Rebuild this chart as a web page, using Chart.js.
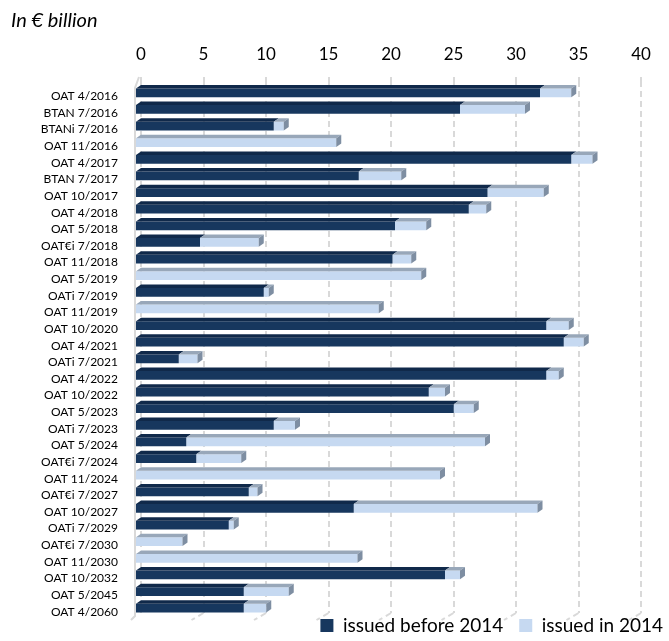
<!DOCTYPE html>
<html>
<head>
<meta charset="utf-8">
<script src="https://cdn.jsdelivr.net/npm/chart.js@4.4.1/dist/chart.umd.min.js"></script>
<style>
  html, body { margin: 0; padding: 0; background: #ffffff; }
  #wrap { width: 669px; height: 641px; }
</style>
</head>
<body>
<div id="wrap"><canvas id="chart" width="669" height="641"></canvas></div>
<script>
// Bond lines, in maturity order
const bonds = [
  'OAT 4/2016', 'BTAN 7/2016', 'BTANi 7/2016', 'OAT 11/2016', 'OAT 4/2017',
  'BTAN 7/2017', 'OAT 10/2017', 'OAT 4/2018', 'OAT 5/2018', 'OAT€i 7/2018',
  'OAT 11/2018', 'OAT 5/2019', 'OATi 7/2019', 'OAT 11/2019', 'OAT 10/2020',
  'OAT 4/2021', 'OATi 7/2021', 'OAT 4/2022', 'OAT 10/2022', 'OAT 5/2023',
  'OATi 7/2023', 'OAT 5/2024', 'OAT€i 7/2024', 'OAT 11/2024', 'OAT€i 7/2027',
  'OAT 10/2027', 'OATi 7/2029', 'OAT€i 7/2030', 'OAT 11/2030', 'OAT 10/2032',
  'OAT 5/2045', 'OAT 4/2060'
];

// Outstanding amounts, € billion
const issuedBefore2014 = [
  32.4, 26.0, 11.1, 0, 34.9,
  17.9, 28.2, 26.7, 20.8, 5.2,
  20.6, 0, 10.3, 0, 32.9,
  34.3, 3.5, 32.9, 23.5, 25.5,
  11.1, 4.1, 4.9, 0, 9.1,
  17.5, 7.5, 0, 0, 24.8,
  8.7, 8.7
];
const issuedIn2014 = [
  2.5, 5.2, 0.8, 16.1, 1.7,
  3.4, 4.5, 1.4, 2.5, 4.7,
  1.5, 22.9, 0.4, 19.5, 1.8,
  1.6, 1.5, 1.0, 1.3, 1.6,
  1.7, 23.9, 3.6, 24.4, 0.7,
  14.7, 0.4, 3.8, 17.8, 1.2,
  3.6, 1.8
];

const seriesNames = ['issued before 2014', 'issued in 2014'];
const axisMin = 0;
const axisMax = 40;
const axisStep = 5;

const FONT = 'Lato, "Open Sans", "DejaVu Sans", sans-serif';

// Face colours of the extruded bars: front, top, right
const faces = [
  { front: '#17375e', top: '#10294a', side: '#0c213d' },
  { front: '#c6d9f1', top: '#98a7b9', side: '#7e8ea2' }
];

// Extrusion of the bars towards the back wall (px)
const DEPTH_X = 5;
const DEPTH_Y = 3.5;
// Offset of the front faces from the wall the gridlines sit on
const FRONT_X = -6;
const FRONT_Y = 3.5;
const GRID = '#d9d9d9';

// Legend sits a little higher and further right than its layout box
const LEGEND_SHIFT_X = 10;
const LEGEND_RAISE = 13;

const boxes3d = {
  id: 'boxes3d',
  afterLayout(chart) {
    const lg = chart.legend;
    if (!lg) return;
    lg.left += LEGEND_SHIFT_X;
    lg.right += LEGEND_SHIFT_X;
    lg.top -= LEGEND_RAISE;
    lg.height = lg.bottom - lg.top;
  },
  beforeDraw(chart) {
    const { ctx, chartArea } = chart;
    const xs = chart.scales.x;
    ctx.save();
    ctx.strokeStyle = GRID;
    ctx.lineWidth = 2;
    // left wall edge
    ctx.beginPath();
    ctx.moveTo(chartArea.left - 2, chartArea.top - 4);
    ctx.lineTo(chartArea.left - 6, chartArea.top + 7);
    ctx.lineTo(chartArea.left - 6, chartArea.bottom + 3);
    ctx.lineTo(chartArea.left - 10, chartArea.bottom + 7);
    ctx.stroke();
    // floor continuation of the gridlines
    ctx.setLineDash([6, 4]);
    xs.ticks.forEach((t, i) => {
      if (i === 0) return;
      const x = xs.getPixelForValue(t.value);
      ctx.beginPath();
      ctx.moveTo(x, chartArea.bottom);
      ctx.lineTo(x - 12, chartArea.bottom + 7);
      ctx.stroke();
    });
    ctx.restore();
  },
  beforeDatasetsDraw(chart) {
    chart.ctx.save();
    chart.ctx.translate(FRONT_X, FRONT_Y);
  },
  afterDatasetsDraw(chart) {
    const ctx = chart.ctx;
    const metas = chart.getSortedVisibleDatasetMetas();
    const count = chart.data.labels.length;
    for (let i = 0; i < count; i++) {
      let last = -1;
      metas.forEach((m, k) => {
        if (chart.data.datasets[m.index].data[i] > 0) last = k;
      });
      metas.forEach((m, k) => {
        const v = chart.data.datasets[m.index].data[i];
        if (!(v > 0)) return;
        const el = m.data[i];
        const p = el.getProps(['x', 'y', 'base', 'height'], true);
        const top = p.y - p.height / 2;
        const bot = p.y + p.height / 2;
        const l = Math.min(p.base, p.x);
        const r = Math.max(p.base, p.x);
        const f = faces[m.index];
        ctx.fillStyle = f.top;
        ctx.beginPath();
        ctx.moveTo(l, top);
        ctx.lineTo(l + DEPTH_X, top - DEPTH_Y);
        ctx.lineTo(r + DEPTH_X, top - DEPTH_Y);
        ctx.lineTo(r, top);
        ctx.closePath();
        ctx.fill();
        if (k === last) {
          ctx.fillStyle = f.side;
          ctx.beginPath();
          ctx.moveTo(r, top);
          ctx.lineTo(r + DEPTH_X, top - DEPTH_Y);
          ctx.lineTo(r + DEPTH_X, bot - DEPTH_Y);
          ctx.lineTo(r, bot);
          ctx.closePath();
          ctx.fill();
        }
      });
    }
    ctx.restore();
  }
};

new Chart(document.getElementById('chart'), {
  type: 'bar',
  data: {
    labels: bonds,
    datasets: [
      {
        label: seriesNames[0],
        data: issuedBefore2014,
        backgroundColor: faces[0].front,
        borderWidth: 0,
        categoryPercentage: 1,
        barPercentage: 0.52
      },
      {
        label: seriesNames[1],
        data: issuedIn2014,
        backgroundColor: faces[1].front,
        borderWidth: 0,
        categoryPercentage: 1,
        barPercentage: 0.52
      }
    ]
  },
  options: {
    indexAxis: 'y',
    responsive: false,
    animation: false,
    devicePixelRatio: 1,
    layout: { padding: { left: 11, right: 0, top: 0, bottom: 0 } },
    plugins: {
      title: {
        display: true,
        text: 'In € billion',
        align: 'start',
        color: '#000000',
        font: { family: FONT, size: 20, style: 'italic', weight: 'normal', lineHeight: 1.2 },
        padding: { top: 9, bottom: 0 }
      },
      legend: {
        position: 'bottom',
        align: 'end',
        maxHeight: 28,
        labels: {
          color: '#000000',
          font: { family: FONT, size: 19 },
          boxWidth: 13,
          boxHeight: 13,
          padding: 16
        }
      },
      tooltip: { enabled: false }
    },
    scales: {
      x: {
        position: 'top',
        stacked: true,
        min: axisMin,
        max: axisMax,
        ticks: {
          stepSize: axisStep,
          color: '#000000',
          font: { family: FONT, size: 17 },
          padding: 12
        },
        grid: {
          color: GRID,
          lineWidth: 2,
          drawTicks: true,
          tickLength: 4,
          tickColor: GRID,
          tickWidth: 2,
          tickBorderDash: [6, 4]
        },
        border: { display: false, dash: [6, 4] },
        afterFit(scale) {
          scale.height = 48;
          scale.paddingRight = 28;
        }
      },
      y: {
        stacked: true,
        ticks: {
          color: '#000000',
          font: { family: FONT, size: 12 },
          padding: 15,
          labelOffset: 7,
          autoSkip: false
        },
        grid: { display: false },
        border: { display: false },
        afterFit(scale) {
          scale.width = 130;
        }
      }
    }
  },
  plugins: [boxes3d]
});
</script>
</body>
</html>
